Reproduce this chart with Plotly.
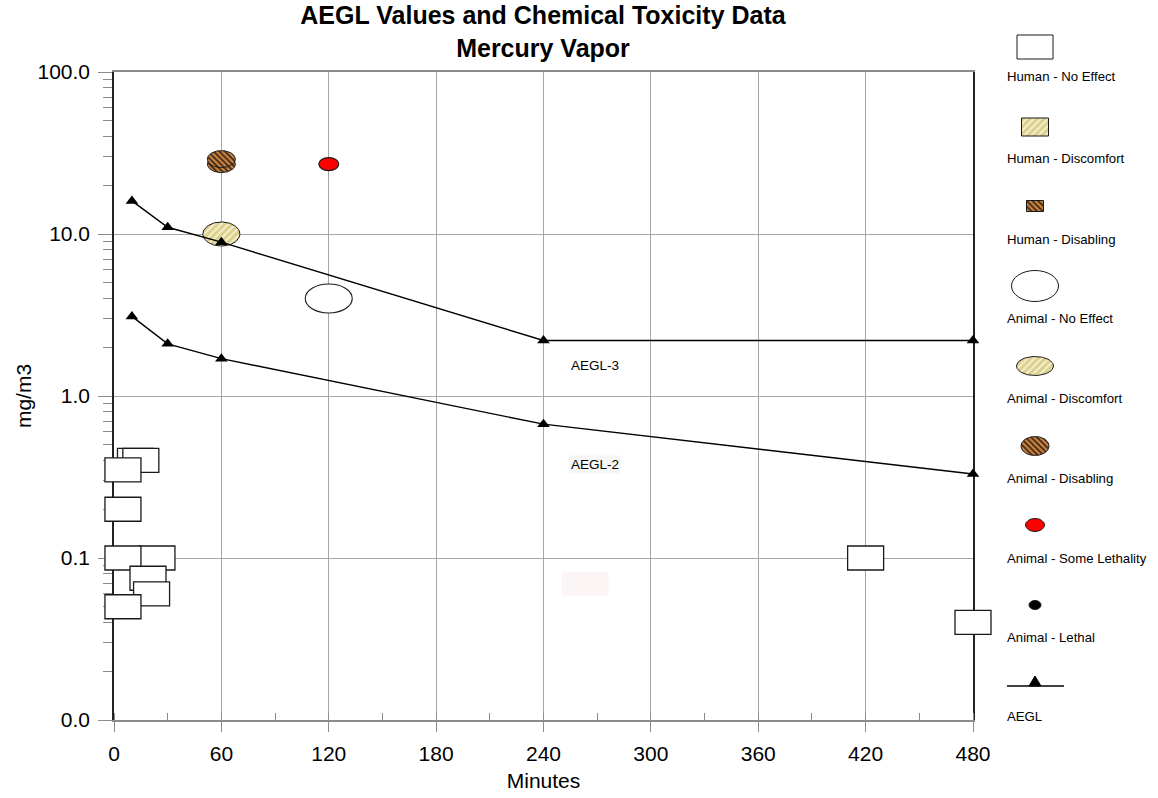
import math
import numpy as np
import plotly.graph_objects as go

# ---------------- data ----------------
aegl_minutes = [10, 30, 60, 240, 480]
aegl3_values = [16, 11, 8.9, 2.2, 2.2]
aegl2_values = [3.1, 2.1, 1.7, 0.67, 0.33]

human_no_effect_min = [12, 15, 5, 5, 24, 5, 19, 21, 5, 420, 480]
human_no_effect_val = [0.40, 0.40, 0.35, 0.20, 0.10, 0.10, 0.075, 0.06, 0.05, 0.10, 0.04]

animal_no_effect_min = [120]
animal_no_effect_val = [4.0]
animal_discomfort_min = [60]
animal_discomfort_val = [10]
animal_disabling_min = [60, 60]
animal_disabling_val = [27, 29]
animal_some_lethality_min = [120]
animal_some_lethality_val = [27]

x_tick_vals = [0, 60, 120, 180, 240, 300, 360, 420, 480]
y_tick_vals = [0.01, 0.1, 1, 10, 100]
y_tick_text = ["0.0", "0.1", "1.0", "10.0", "100.0"]

legend_labels = ["Human - No Effect", "Human - Discomfort", "Human - Disabling",
                 "Animal - No Effect", "Animal - Discomfort", "Animal - Disabling",
                 "Animal - Some Lethality", "Animal - Lethal", "AEGL"]

# ---------------- styles / geometry ----------------
W, H = 1158, 798
PL, PR, PT, PB = 114, 973, 72, 720
X_MIN, X_MAX = 0, 480
Y_LOG_MIN, Y_LOG_MAX = -2, 2
FONT = "Liberation Sans, Arial, sans-serif"
GRID = "#A6A6A6"
AXIS_GRAY = "#8C8C8C"
YELLOW_PAT = dict(shape="/", bgcolor="#DDD08A", fgcolor="#F6F1D8", size=5, solidity=0.35,
                  fillmode="replace")
BROWN_PAT = dict(shape="\\", bgcolor="#CC8544", fgcolor="#3B2410", size=4, solidity=0.45,
                 fillmode="replace")

px_per_min = (PR - PL) / (X_MAX - X_MIN)
px_per_dec = (PB - PT) / (Y_LOG_MAX - Y_LOG_MIN)
x2_range = [X_MIN - PL / px_per_min, X_MAX + (W - PR) / px_per_min]
y2_range = [Y_LOG_MIN - (H - PB) / px_per_dec, Y_LOG_MAX + PT / px_per_dec]

minor_y = [m * 10 ** e for e in range(-2, 2) for m in range(2, 10)]

fig = go.Figure()

# invisible hover points on the main axes
all_x = (human_no_effect_min + animal_no_effect_min + animal_discomfort_min
         + animal_disabling_min + animal_some_lethality_min)
all_y = (human_no_effect_val + animal_no_effect_val + animal_discomfort_val
         + animal_disabling_val + animal_some_lethality_val)
fig.add_trace(go.Scatter(x=all_x, y=all_y, mode="markers", marker=dict(opacity=0, size=20),
                         showlegend=False, hoverinfo="x+y"))

shapes = []


def sym(kind, cx, cy, w, h, fill, lw=1.1):
    # y2 is a linear axis laid out in decades (cy = log10 of the value)
    shapes.append(dict(type=kind, xref="x2", yref="y2", layer="below",
                       xsizemode="pixel", ysizemode="pixel",
                       xanchor=cx, yanchor=cy,
                       x0=-w / 2, x1=w / 2, y0=-h / 2, y1=h / 2,
                       fillcolor=fill, line=dict(color="#1A1A1A", width=lw)))


def hatched(kind, cx, cy, w, h, pattern):
    # hatched symbol of w x h pixels centred on (cx, cy) of the x2/y2 axes
    if kind == "circle":
        t = np.linspace(0, 2 * np.pi, 73)
        xs = cx + (w / 2) * np.cos(t) / px_per_min
        ys = cy + (h / 2) * np.sin(t) / px_per_dec
    else:
        dx, dy = (w / 2) / px_per_min, (h / 2) / px_per_dec
        xs = [cx - dx, cx + dx, cx + dx, cx - dx, cx - dx]
        ys = [cy - dy, cy - dy, cy + dy, cy + dy, cy - dy]
    fig.add_trace(go.Scatter(x=xs, y=ys, xaxis="x2", yaxis="y2", mode="lines",
                             fill="toself", fillpattern=pattern,
                             line=dict(color="#1A1A1A", width=1),
                             showlegend=False, hoverinfo="skip"))


for xv, yv in zip(human_no_effect_min, human_no_effect_val):
    sym("rect", xv, math.log10(yv), 36, 24, "white", 1.3)
for xv, yv in zip(animal_no_effect_min, animal_no_effect_val):
    sym("circle", xv, math.log10(yv), 47, 29, "white")
for xv, yv in zip(animal_some_lethality_min, animal_some_lethality_val):
    sym("circle", xv, math.log10(yv), 20, 13, "#FF0000")
for xv, yv in zip(animal_discomfort_min, animal_discomfort_val):
    hatched("circle", xv, math.log10(yv), 37, 24, YELLOW_PAT)
for xv, yv in zip(animal_disabling_min, animal_disabling_val):
    hatched("circle", xv, math.log10(yv), 28, 17, BROWN_PAT)

# AEGL lines (overlay log axis, drawn above the symbols)
for vals in (aegl3_values, aegl2_values):
    fig.add_trace(go.Scatter(
        x=aegl_minutes, y=vals, xaxis="x2", yaxis="y3", mode="lines+markers",
        line=dict(color="black", width=1.4),
        marker=dict(symbol="triangle-up", size=11, color="black"),
        cliponaxis=False, showlegend=False, hoverinfo="x+y"))


# ---------------- custom legend ----------------
def px(xp):
    return xp / W


def py(yp):
    return 1 - yp / H


def to_x2(p):
    return X_MIN + (p - PL) / px_per_min


def to_y2(p):
    return Y_LOG_MAX - (p - PT) / px_per_dec


LCX = 1035
legend_plain = [
    ("rect", 47, 36, 24, "white"),
    ("circle", 286, 47, 31, "white"),
    ("circle", 525, 19, 13, "#FF0000"),
    ("circle", 605, 12, 9, "black"),
]
for kind, cy, w, h, fill in legend_plain:
    shapes.append(dict(type=kind, xref="paper", yref="paper",
                       x0=px(LCX - w / 2), x1=px(LCX + w / 2),
                       y0=py(cy + h / 2), y1=py(cy - h / 2),
                       fillcolor=fill, line=dict(color="#1A1A1A", width=1)))
legend_hatched = [
    ("rect", 127, 27, 18, YELLOW_PAT),
    ("rect", 206, 17, 11, BROWN_PAT),
    ("circle", 366, 37, 19, YELLOW_PAT),
    ("circle", 446, 28, 19, BROWN_PAT),
]
for kind, cy, w, h, pat in legend_hatched:
    hatched(kind, to_x2(LCX), to_y2(cy), w, h, pat)

shapes.append(dict(type="line", xref="paper", yref="paper",
                   x0=px(1007), x1=px(1064), y0=py(686), y1=py(686),
                   line=dict(color="black", width=1.4)))
shapes.append(dict(type="path", xref="paper", yref="paper",
                   path=f"M {px(1029)},{py(686)} L {px(1041)},{py(686)} L {px(1035)},{py(676)} Z",
                   fillcolor="black", line=dict(color="black", width=1)))

legend_label_y = [77, 158, 239, 318, 398, 478, 558, 637, 716]
annotations = []
for lab, ly in zip(legend_labels, legend_label_y):
    annotations.append(dict(text=lab, xref="paper", yref="paper", x=px(1005), y=py(ly),
                            xanchor="left", yanchor="middle", showarrow=False,
                            font=dict(family=FONT, size=13.2, color="black")))

# AEGL labels (annotation y on a log axis is given in decades)
annotations.append(dict(text="AEGL-3", xref="x", yref="y", x=269, y=0.19, xanchor="center",
                        yanchor="middle", showarrow=False,
                        font=dict(family=FONT, size=13.5, color="black")))
annotations.append(dict(text="AEGL-2", xref="x", yref="y", x=269, y=-0.42, xanchor="center",
                        yanchor="middle", showarrow=False, bgcolor="#F6F6F6",
                        font=dict(family=FONT, size=13.5, color="black")))
annotations.append(dict(text=" ", xref="x", yref="y", x=263, y=-1.16, xanchor="center",
                        yanchor="middle", showarrow=False, bgcolor="#FCF5F5",
                        width=44, height=21, font=dict(family=FONT, size=13)))

fig.update_layout(
    template="none",
    width=W, height=H,
    margin=dict(l=0, r=0, t=0, b=0, autoexpand=False),
    paper_bgcolor="white", plot_bgcolor="rgba(0,0,0,0)",
    showlegend=False,
    shapes=shapes, annotations=annotations,
    title=dict(text="<b>AEGL Values and Chemical Toxicity Data<br>Mercury Vapor</b>",
               x=543 / W, xanchor="center", y=1 - 24 / H, yanchor="top",
               font=dict(family=FONT, size=25, color="black")),
    xaxis=dict(domain=[PL / W, PR / W], range=[X_MIN, X_MAX], anchor="y", automargin=False,
               tickmode="array", tickvals=x_tick_vals,
               ticks="outside", ticklen=10, tickcolor=AXIS_GRAY, tickwidth=1,
               ticklabelstandoff=4,
               showgrid=True, gridcolor=GRID, gridwidth=1, zeroline=False,
               showline=True, linecolor=AXIS_GRAY, linewidth=1.5, mirror=True,
               minor=dict(dtick=30, ticks="inside", ticklen=7, tickcolor=AXIS_GRAY, showgrid=False),
               tickfont=dict(family=FONT, size=21, color="black"),
               title=dict(text="Minutes", standoff=9, font=dict(family=FONT, size=21, color="black"))),
    yaxis=dict(domain=[1 - PB / H, 1 - PT / H], type="log", range=[Y_LOG_MIN, Y_LOG_MAX],
               anchor="x", automargin=False,
               tickmode="array", tickvals=y_tick_vals, ticktext=y_tick_text,
               ticks="outside", ticklen=14, tickcolor=AXIS_GRAY, tickwidth=1,
               ticklabelstandoff=4,
               showgrid=True, gridcolor=GRID, gridwidth=1, zeroline=False,
               showline=True, linecolor="#222222", linewidth=1.5, mirror=True,
               minor=dict(tickmode="array", tickvals=minor_y, ticks="outside", ticklen=9,
                          tickcolor=AXIS_GRAY, showgrid=False),
               tickfont=dict(family=FONT, size=21, color="black"),
               title=dict(text="mg/m3", standoff=0, font=dict(family=FONT, size=21, color="black"))),
    xaxis2=dict(domain=[0, 1], range=x2_range, anchor="y2", visible=False,
                fixedrange=True, automargin=False),
    yaxis2=dict(domain=[0, 1], type="linear", range=y2_range, anchor="x2", visible=False,
                fixedrange=True, automargin=False),
    yaxis3=dict(type="log", range=y2_range, overlaying="y2", anchor="x2", visible=False,
                fixedrange=True, automargin=False),
)

fig.write_html("out.html", config={"displayModeBar": False},
               post_script="document.body.style.margin='0';")
